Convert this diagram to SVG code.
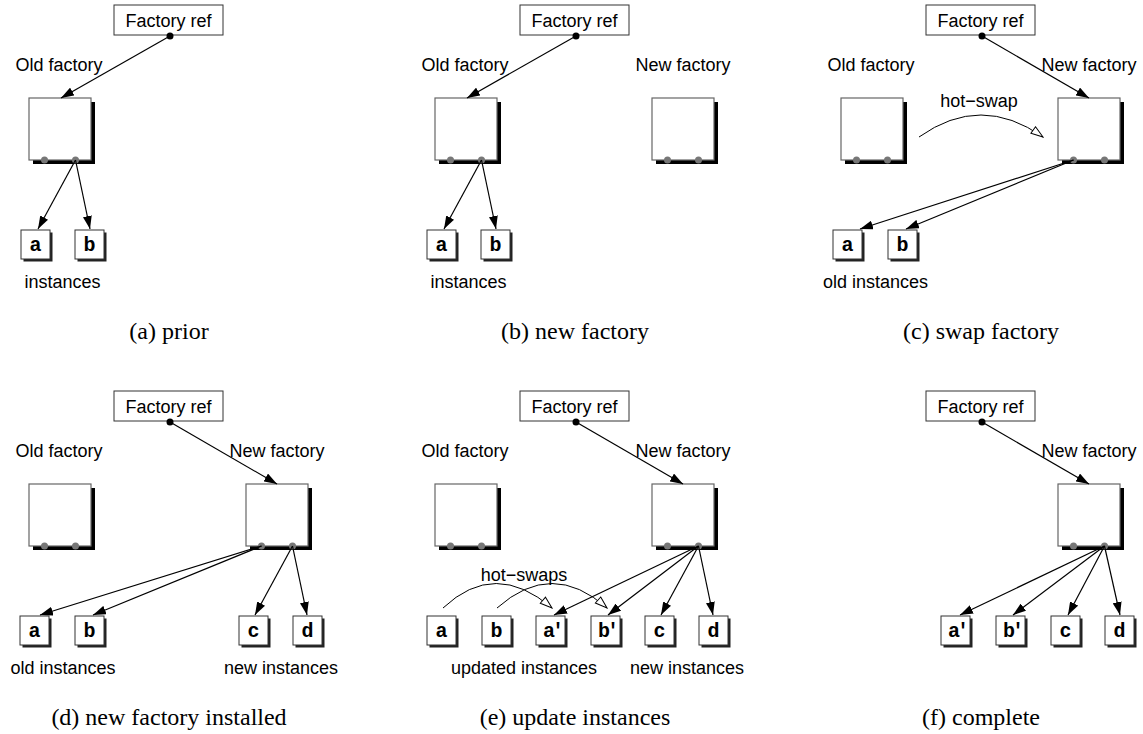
<svg xmlns="http://www.w3.org/2000/svg" width="1143" height="734" viewBox="0 0 1143 734">
<defs>
<style>
.lbl{font-family:"Liberation Sans",Arial,sans-serif;font-size:18px;fill:#000;text-anchor:middle}
.mono{font-family:"Liberation Mono","DejaVu Sans Mono","Courier New",monospace;font-weight:bold;font-size:20px;fill:#000;text-anchor:middle}
.pr{letter-spacing:-3px}
.cap{font-family:"Liberation Serif","Times New Roman",serif;font-size:24px;fill:#000;text-anchor:middle}
.ref{fill:#fff;stroke:#333;stroke-width:1}
.fbox{fill:#fff;stroke:#666;stroke-width:1.2}
.fsh{fill:#000}
.ibox{fill:#fff;stroke:#333;stroke-width:1}
.ish{fill:#222}
.pin{fill:#777}
.dot{fill:#000}
.conn{stroke:#000;stroke-width:1.2;fill:none;marker-end:url(#ah)}
.swap{stroke:#000;stroke-width:1;fill:none;marker-end:url(#oh)}
</style>
<marker id="ah" markerUnits="userSpaceOnUse" viewBox="0 0 13 9" markerWidth="13" markerHeight="9" refX="13" refY="4.5" orient="auto">
<path d="M0,0 L13,4.5 L0,9 z" fill="#000"/>
</marker>
<marker id="oh" markerUnits="userSpaceOnUse" viewBox="0 0 14 10" markerWidth="14" markerHeight="10" refX="13" refY="5" orient="auto">
<path d="M1,1 L13,5 L1,9 z" fill="#fff" stroke="#000" stroke-width="1"/>
</marker>
</defs>
<rect width="1143" height="734" fill="#fff"/>

<!-- (a) prior -->
<g id="panel-a">
<g id="a-ref"><rect class="ref" x="114" y="5" width="109" height="30"/><text class="lbl" x="168.5" y="27">Factory ref</text><circle class="dot" cx="170" cy="36" r="3.5"/></g>
<g id="a-old"><text class="lbl" x="59" y="71">Old factory</text><rect class="fsh" x="33" y="102" width="62" height="62"/><rect class="fbox" x="29" y="98" width="62" height="62"/><circle class="pin" cx="44.5" cy="160" r="3.5"/><circle class="pin" cx="75.5" cy="160" r="3.5"/></g>
<g id="a-inst-a"><rect class="ish" x="23.5" y="232.5" width="29" height="29"/><rect class="ibox" x="21" y="230" width="29" height="29"/><text class="mono" x="35.5" y="251">a</text></g>
<g id="a-inst-b"><rect class="ish" x="77.5" y="232.5" width="29" height="29"/><rect class="ibox" x="75" y="230" width="29" height="29"/><text class="mono" x="89.5" y="251">b</text></g>
<text class="lbl" x="62.5" y="288">instances</text>
<g id="a-connectors"><line class="conn" x1="170" y1="36" x2="61" y2="98"/><line class="conn" x1="75.5" y1="160" x2="38" y2="229"/><line class="conn" x1="75.5" y1="160" x2="90" y2="229"/></g>
<text class="cap" x="169" y="339">(a) prior</text>
</g>

<!-- (b) new factory -->
<g id="panel-b" transform="translate(406,0)">
<g id="b-ref"><rect class="ref" x="114" y="5" width="109" height="30"/><text class="lbl" x="168.5" y="27">Factory ref</text><circle class="dot" cx="170" cy="36" r="3.5"/></g>
<g id="b-old"><text class="lbl" x="59" y="71">Old factory</text><rect class="fsh" x="33" y="102" width="62" height="62"/><rect class="fbox" x="29" y="98" width="62" height="62"/><circle class="pin" cx="44.5" cy="160" r="3.5"/><circle class="pin" cx="75.5" cy="160" r="3.5"/></g>
<g id="b-new"><text class="lbl" x="277" y="71">New factory</text><rect class="fsh" x="250" y="102" width="62" height="62"/><rect class="fbox" x="246" y="98" width="62" height="62"/><circle class="pin" cx="261.5" cy="160" r="3.5"/><circle class="pin" cx="292.5" cy="160" r="3.5"/></g>
<g id="b-inst-a"><rect class="ish" x="23.5" y="232.5" width="29" height="29"/><rect class="ibox" x="21" y="230" width="29" height="29"/><text class="mono" x="35.5" y="251">a</text></g>
<g id="b-inst-b"><rect class="ish" x="77.5" y="232.5" width="29" height="29"/><rect class="ibox" x="75" y="230" width="29" height="29"/><text class="mono" x="89.5" y="251">b</text></g>
<text class="lbl" x="62.5" y="288">instances</text>
<g id="b-connectors"><line class="conn" x1="170" y1="36" x2="61" y2="98"/><line class="conn" x1="75.5" y1="160" x2="38" y2="229"/><line class="conn" x1="75.5" y1="160" x2="90" y2="229"/></g>
<text class="cap" x="169" y="339">(b) new factory</text>
</g>

<!-- (c) swap factory -->
<g id="panel-c" transform="translate(812,0)">
<g id="c-ref"><rect class="ref" x="114" y="5" width="109" height="30"/><text class="lbl" x="168.5" y="27">Factory ref</text><circle class="dot" cx="170" cy="36" r="3.5"/></g>
<g id="c-old"><text class="lbl" x="59" y="71">Old factory</text><rect class="fsh" x="33" y="102" width="62" height="62"/><rect class="fbox" x="29" y="98" width="62" height="62"/><circle class="pin" cx="44.5" cy="160" r="3.5"/><circle class="pin" cx="75.5" cy="160" r="3.5"/></g>
<g id="c-new"><text class="lbl" x="277" y="71">New factory</text><rect class="fsh" x="250" y="102" width="62" height="62"/><rect class="fbox" x="246" y="98" width="62" height="62"/><circle class="pin" cx="261.5" cy="160" r="3.5"/><circle class="pin" cx="292.5" cy="160" r="3.5"/></g>
<g id="c-inst-a"><rect class="ish" x="23.5" y="232.5" width="29" height="29"/><rect class="ibox" x="21" y="230" width="29" height="29"/><text class="mono" x="35.5" y="251">a</text></g>
<g id="c-inst-b"><rect class="ish" x="78.5" y="232.5" width="29" height="29"/><rect class="ibox" x="76" y="230" width="29" height="29"/><text class="mono" x="90.5" y="251">b</text></g>
<text class="lbl" x="63.5" y="288">old instances</text>
<g id="c-connectors"><line class="conn" x1="170" y1="36" x2="277" y2="98"/><path class="swap" d="M107,137 Q169,93 231,137"/><line class="conn" x1="261.5" y1="160" x2="48" y2="229"/><line class="conn" x1="261.5" y1="160" x2="94" y2="229"/></g>
<text class="lbl" x="167" y="107">hot−swap</text>
<text class="cap" x="169" y="339">(c) swap factory</text>
</g>

<!-- (d) new factory installed -->
<g id="panel-d" transform="translate(0,386)">
<g id="d-ref"><rect class="ref" x="114" y="5" width="109" height="30"/><text class="lbl" x="168.5" y="27">Factory ref</text><circle class="dot" cx="170" cy="36" r="3.5"/></g>
<g id="d-old"><text class="lbl" x="59" y="71">Old factory</text><rect class="fsh" x="33" y="102" width="62" height="62"/><rect class="fbox" x="29" y="98" width="62" height="62"/><circle class="pin" cx="44.5" cy="160" r="3.5"/><circle class="pin" cx="75.5" cy="160" r="3.5"/></g>
<g id="d-new"><text class="lbl" x="277" y="71">New factory</text><rect class="fsh" x="250" y="102" width="62" height="62"/><rect class="fbox" x="246" y="98" width="62" height="62"/><circle class="pin" cx="261.5" cy="160" r="3.5"/><circle class="pin" cx="292.5" cy="160" r="3.5"/></g>
<g id="d-inst-a"><rect class="ish" x="22.5" y="232.5" width="29" height="29"/><rect class="ibox" x="20" y="230" width="29" height="29"/><text class="mono" x="34.5" y="251">a</text></g>
<g id="d-inst-b"><rect class="ish" x="77.5" y="232.5" width="29" height="29"/><rect class="ibox" x="75" y="230" width="29" height="29"/><text class="mono" x="89.5" y="251">b</text></g>
<g id="d-inst-c"><rect class="ish" x="241.5" y="232.5" width="29" height="29"/><rect class="ibox" x="239" y="230" width="29" height="29"/><text class="mono" x="253.5" y="251">c</text></g>
<g id="d-inst-d"><rect class="ish" x="295.5" y="232.5" width="29" height="29"/><rect class="ibox" x="293" y="230" width="29" height="29"/><text class="mono" x="307.5" y="251">d</text></g>
<text class="lbl" x="63" y="288">old instances</text>
<text class="lbl" x="281" y="288">new instances</text>
<g id="d-connectors"><line class="conn" x1="170" y1="36" x2="277" y2="98"/><line class="conn" x1="261.5" y1="160" x2="40" y2="229"/><line class="conn" x1="261.5" y1="160" x2="93" y2="229"/><line class="conn" x1="292.5" y1="160" x2="255" y2="229"/><line class="conn" x1="292.5" y1="160" x2="307" y2="229"/></g>
<text class="cap" x="169" y="339">(d) new factory installed</text>
</g>

<!-- (e) update instances -->
<g id="panel-e" transform="translate(406,386)">
<g id="e-ref"><rect class="ref" x="114" y="5" width="109" height="30"/><text class="lbl" x="168.5" y="27">Factory ref</text><circle class="dot" cx="170" cy="36" r="3.5"/></g>
<g id="e-old"><text class="lbl" x="59" y="71">Old factory</text><rect class="fsh" x="33" y="102" width="62" height="62"/><rect class="fbox" x="29" y="98" width="62" height="62"/><circle class="pin" cx="44.5" cy="160" r="3.5"/><circle class="pin" cx="75.5" cy="160" r="3.5"/></g>
<g id="e-new"><text class="lbl" x="277" y="71">New factory</text><rect class="fsh" x="250" y="102" width="62" height="62"/><rect class="fbox" x="246" y="98" width="62" height="62"/><circle class="pin" cx="261.5" cy="160" r="3.5"/><circle class="pin" cx="292.5" cy="160" r="3.5"/></g>
<g id="e-inst-a"><rect class="ish" x="23.5" y="232.5" width="29" height="29"/><rect class="ibox" x="21" y="230" width="29" height="29"/><text class="mono" x="35.5" y="251">a</text></g>
<g id="e-inst-b"><rect class="ish" x="78.5" y="232.5" width="29" height="29"/><rect class="ibox" x="76" y="230" width="29" height="29"/><text class="mono" x="90.5" y="251">b</text></g>
<g id="e-inst-a2"><rect class="ish" x="132.5" y="232.5" width="29" height="29"/><rect class="ibox" x="130" y="230" width="29" height="29"/><text class="mono pr" x="146" y="251">a′</text></g>
<g id="e-inst-b2"><rect class="ish" x="187.5" y="232.5" width="29" height="29"/><rect class="ibox" x="185" y="230" width="29" height="29"/><text class="mono pr" x="201" y="251">b′</text></g>
<g id="e-inst-c"><rect class="ish" x="241.5" y="232.5" width="29" height="29"/><rect class="ibox" x="239" y="230" width="29" height="29"/><text class="mono" x="253.5" y="251">c</text></g>
<g id="e-inst-d"><rect class="ish" x="295.5" y="232.5" width="29" height="29"/><rect class="ibox" x="293" y="230" width="29" height="29"/><text class="mono" x="307.5" y="251">d</text></g>
<text class="lbl" x="118" y="195">hot−swaps</text>
<text class="lbl" x="118" y="288">updated instances</text>
<text class="lbl" x="281" y="288">new instances</text>
<g id="e-connectors"><line class="conn" x1="170" y1="36" x2="277" y2="98"/><path class="swap" d="M37,222 Q89,173 146,222"/><path class="swap" d="M91,222 Q146,173 201,222"/><line class="conn" x1="292.5" y1="160" x2="148" y2="229"/><line class="conn" x1="292.5" y1="160" x2="202" y2="229"/><line class="conn" x1="292.5" y1="160" x2="255" y2="229"/><line class="conn" x1="292.5" y1="160" x2="307" y2="229"/></g>
<text class="cap" x="169" y="339">(e) update instances</text>
</g>

<!-- (f) complete -->
<g id="panel-f" transform="translate(812,386)">
<g id="f-ref"><rect class="ref" x="114" y="5" width="109" height="30"/><text class="lbl" x="168.5" y="27">Factory ref</text><circle class="dot" cx="170" cy="36" r="3.5"/></g>
<g id="f-new"><text class="lbl" x="277" y="71">New factory</text><rect class="fsh" x="250" y="102" width="62" height="62"/><rect class="fbox" x="246" y="98" width="62" height="62"/><circle class="pin" cx="261.5" cy="160" r="3.5"/><circle class="pin" cx="292.5" cy="160" r="3.5"/></g>
<g id="f-inst-a2"><rect class="ish" x="131.5" y="232.5" width="29" height="29"/><rect class="ibox" x="129" y="230" width="29" height="29"/><text class="mono pr" x="145" y="251">a′</text></g>
<g id="f-inst-b2"><rect class="ish" x="186.5" y="232.5" width="29" height="29"/><rect class="ibox" x="184" y="230" width="29" height="29"/><text class="mono pr" x="200" y="251">b′</text></g>
<g id="f-inst-c"><rect class="ish" x="241.5" y="232.5" width="29" height="29"/><rect class="ibox" x="239" y="230" width="29" height="29"/><text class="mono" x="253.5" y="251">c</text></g>
<g id="f-inst-d"><rect class="ish" x="295.5" y="232.5" width="29" height="29"/><rect class="ibox" x="293" y="230" width="29" height="29"/><text class="mono" x="307.5" y="251">d</text></g>
<g id="f-connectors"><line class="conn" x1="170" y1="36" x2="277" y2="98"/><line class="conn" x1="292.5" y1="160" x2="148" y2="229"/><line class="conn" x1="292.5" y1="160" x2="201" y2="229"/><line class="conn" x1="292.5" y1="160" x2="256" y2="229"/><line class="conn" x1="292.5" y1="160" x2="308" y2="229"/></g>
<text class="cap" x="169" y="339">(f) complete</text>
</g>
</svg>
